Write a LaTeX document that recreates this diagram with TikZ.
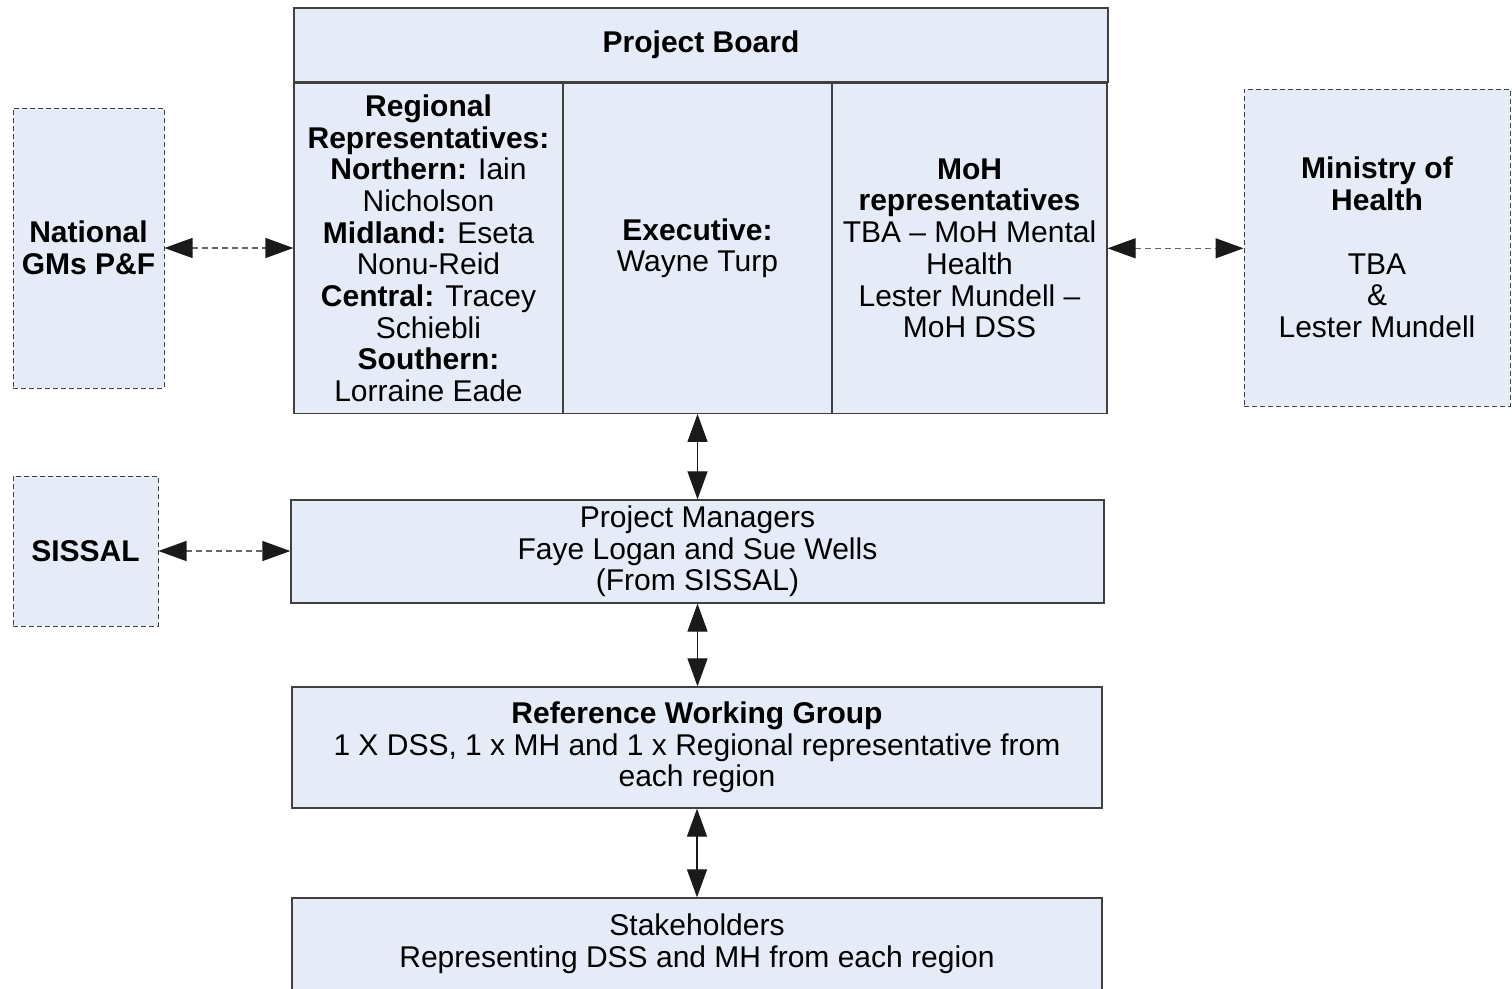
\documentclass[tikz,border=0pt]{standalone}
\usepackage{fontspec}
\setmainfont{Liberation Sans}
\usepackage{tikz}
\usetikzlibrary{arrows.meta,calc,positioning}
\definecolor{boxfill}{RGB}{230,236,247}
\definecolor{boxline}{RGB}{64,64,64}
\definecolor{tipfill}{RGB}{26,26,26}

\begin{document}
\begin{tikzpicture}[x=1pt,y=-1pt,
    every node/.style={font=\fontsize{30}{31.7}\selectfont, align=center, inner sep=0pt},
    solidbox/.style={draw=boxline, fill=boxfill, line width=1.3pt},
    dashbox/.style={draw=boxline, fill=boxfill, line width=1pt, dash pattern=on 5pt off 3pt},
    link/.style={{Triangle[length=28pt,width=20pt,color=tipfill]}-{Triangle[length=28pt,width=20pt,color=tipfill]}, line width=1.2pt, draw=tipfill},
    dashlink/.style={link, draw=gray!80!black, line width=1.3pt, dash pattern=on 6pt off 4pt}]
        \useasboundingbox (0,0) rectangle (1512,988);
        % Project board and its three columns
        \node[solidbox, minimum width=814pt, minimum height=74pt] (board) at (701,45) {\textbf{Project Board}};
        \node[solidbox, minimum width=269pt, minimum height=330pt, anchor=north west] (regional) at (board.south west)
            {\textbf{Regional}\\ \textbf{Representatives:}\\ \textbf{Northern:} Iain\\ Nicholson\\ \textbf{Midland:} Eseta\\ Nonu-Reid\\ \textbf{Central:} Tracey\\ Schiebli\\ \textbf{Southern:}\\ Lorraine Eade};
        \node[solidbox, minimum width=269pt, minimum height=330pt, right=-1.3pt of regional] (exec)
            {\textbf{Executive:}\\ Wayne Turp};
        \node[solidbox, minimum width=275pt, minimum height=330pt, right=-1.3pt of exec] (mohreps)
            {\textbf{MoH}\\ \textbf{representatives}\\ TBA -- MoH Mental\\ Health\\ Lester Mundell --\\ MoH DSS};
        % Side boxes
        \node[dashbox, minimum width=151pt, minimum height=280pt] (national) at (88.5,248) {\textbf{National}\\ \textbf{GMs P\&F}};
        \node[dashbox, minimum width=266pt, minimum height=317pt] (ministry) at (1377,247.5)
            {\textbf{Ministry of}\\ \textbf{Health}\\ \mbox{}\\ TBA\\ \&\\ Lester Mundell};
        \node[dashbox, minimum width=145pt, minimum height=150pt] (sissal) at (85.5,551) {\textbf{SISSAL}};
        % Lower chain
        \node[solidbox, minimum width=813pt, minimum height=103pt] (pm) at (697.5,551.5)
            {Project Managers\\ Faye Logan and Sue Wells\\ (From SISSAL)};
        \node[solidbox, minimum width=810pt, minimum height=121pt] (rwg) at (697,747.5)
            {\textbf{Reference Working Group}\\ 1 X DSS, 1 x MH and 1 x Regional representative from\\ each region};
        \node[solidbox, minimum width=810pt, minimum height=92pt] (stake) at (697,944)
            {Stakeholders\\ Representing DSS and MH from each region};
        % Connectors
        \draw[link] (exec.south) -- (pm.north -| exec.south);
        \draw[link] (pm.south) -- (pm.south |- rwg.north);
        \draw[link] (rwg.north |- rwg.south) -- (rwg.north |- stake.north);
        \draw[dashlink] (national.east) -- (national.east -| regional.west);
        \draw[dashlink] (mohreps.east) -- (mohreps.east -| ministry.west);
        \draw[dashlink] (sissal.east) -- (sissal.east -| pm.west);
\end{tikzpicture}
\end{document}
